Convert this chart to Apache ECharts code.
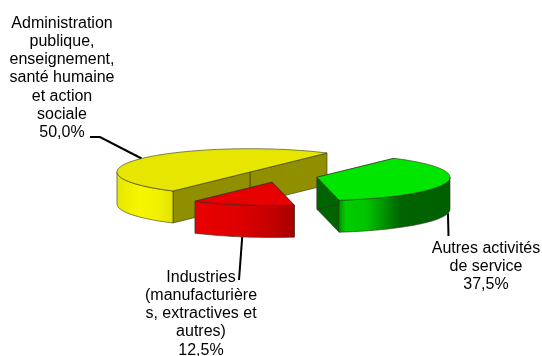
<!DOCTYPE html>
<html>
<head>
<meta charset="utf-8">
<style>
  html, body { margin: 0; padding: 0; background: #fff; }
  #chart { width: 542px; height: 356px; }
</style>
<script src="https://cdn.jsdelivr.net/npm/echarts@6/dist/echarts.min.js"></script>
</head>
<body>
<div id="chart"></div>
<script>
// categories and values (counter-clockwise from the first slice)
var categories = [
  'Administration\npublique,\nenseignement,\nsanté humaine\net action\nsociale',
  'Industries\n(manufacturière\ns, extractives et\nautres)',
  'Autres activités\nde service'
];
var values = [50.0, 12.5, 37.5];

// pie projection
var cx = 280.5, cy = 175.8;
var rx = 133, ry = 23.3;
var depth = 32;
var explode = 0.2815;
var startAngle = 54.6;

// look of each slice
var topColors = ['#e6e600', '#e60000', '#00e600'];
var cutColors = ['#8f8f00', '#8f0000', '#006400'];
var wallStops = [
  [[0, '#e6e600'], [0.4, '#f6f600'], [0.75, '#f0f000'], [1, '#e2e200']],
  [[0, '#ea0000'], [0.4, '#e00000'], [0.72, '#c80000'], [1, '#a80000']],
  [[0, '#009000'], [0.06, '#00cc00'], [0.25, '#00c400'], [0.55, '#006400'], [1, '#006000']]
];
var edgeColor = 'rgba(50,50,30,0.75)';

// label placement: centre x and top y of the block, then leader line as
// [angle on the rim, y offset below the rim, then the other points]
var labelX = [62, 201, 486];
var labelY = [14, 268, 239];
var leaders = [
  { angle: 144.6, down: 0, pts: [[100, 137], [90, 137]] },
  { angle: 257, down: depth, pts: [[239, 280]] },
  { angle: 350, down: depth, pts: [[448.5, 236]] }
];

var total = values.reduce(function (a, b) { return a + b; }, 0);

function rad(a) { return a * Math.PI / 180; }

function pointOn(c, angle, dy) {
  return [c[0] + rx * Math.cos(rad(angle)), c[1] - ry * Math.sin(rad(angle)) + (dy || 0)];
}

function arc(c, from, to, dy) {
  var pts = [];
  var n = Math.max(2, Math.ceil(Math.abs(to - from) / 2));
  for (var i = 0; i <= n; i++) {
    pts.push(pointOn(c, from + (to - from) * i / n, dy));
  }
  return pts;
}

function percentText(v) {
  return (v / total * 100).toFixed(1).replace('.', ',') + '%';
}

function renderSlice(params, api) {
  var idx = params.dataIndex;
  var before = 0;
  for (var i = 0; i < idx; i++) before += values[i];
  var from = startAngle + before / total * 360;
  var to = from + api.value(0) / total * 360;
  var mid = (from + to) / 2;
  var c = [
    cx + explode * rx * Math.cos(rad(mid)),
    cy - explode * ry * Math.sin(rad(mid))
  ];
  var children = [];

  // leader line goes under the slice so it starts at the edge
  var lead = leaders[idx];
  children.push({
    type: 'polyline',
    shape: { points: [pointOn(c, lead.angle, lead.down)].concat(lead.pts) },
    style: { fill: null, stroke: '#000', lineWidth: 2 }
  });

  // cut faces, the hidden ones end up under the top and the rim
  [from, to].forEach(function (a) {
    var p = pointOn(c, a);
    children.push({
      type: 'polygon',
      shape: { points: [c, p, [p[0], p[1] + depth], [c[0], c[1] + depth]] },
      style: { fill: cutColors[idx], stroke: edgeColor, lineWidth: 0.8 }
    });
  });

  // rim, only the part facing us
  var a0 = Math.max(from, 180), a1 = Math.min(to, 360);
  if (a1 > a0) {
    children.push({
      type: 'polygon',
      shape: { points: arc(c, a0, a1, 0).concat(arc(c, a1, a0, depth)) },
      style: {
        fill: new echarts.graphic.LinearGradient(0, 0, 1, 0, wallStops[idx].map(function (s) {
          return { offset: s[0], color: s[1] };
        })),
        stroke: edgeColor,
        lineWidth: 0.8
      }
    });
  }

  // top
  children.push({
    type: 'polygon',
    shape: { points: [c].concat(arc(c, from, to, 0)) },
    style: { fill: topColors[idx], stroke: edgeColor, lineWidth: 0.8 }
  });

  // label
  children.push({
    type: 'text',
    style: {
      x: labelX[idx],
      y: labelY[idx],
      text: categories[idx] + '\n' + percentText(api.value(0)),
      align: 'center',
      verticalAlign: 'top',
      fill: '#000',
      font: '16px "Liberation Sans", Arial, sans-serif',
      lineHeight: 18.3
    }
  });

  return { type: 'group', children: children };
}

var chart = echarts.init(document.getElementById('chart'), null, { renderer: 'canvas' });
chart.setOption({
  animation: false,
  backgroundColor: '#fff',
  series: [{
    type: 'custom',
    coordinateSystem: 'none',
    silent: true,
    renderItem: renderSlice,
    data: values.map(function (v) { return [v]; })
  }]
});
</script>
</body>
</html>
